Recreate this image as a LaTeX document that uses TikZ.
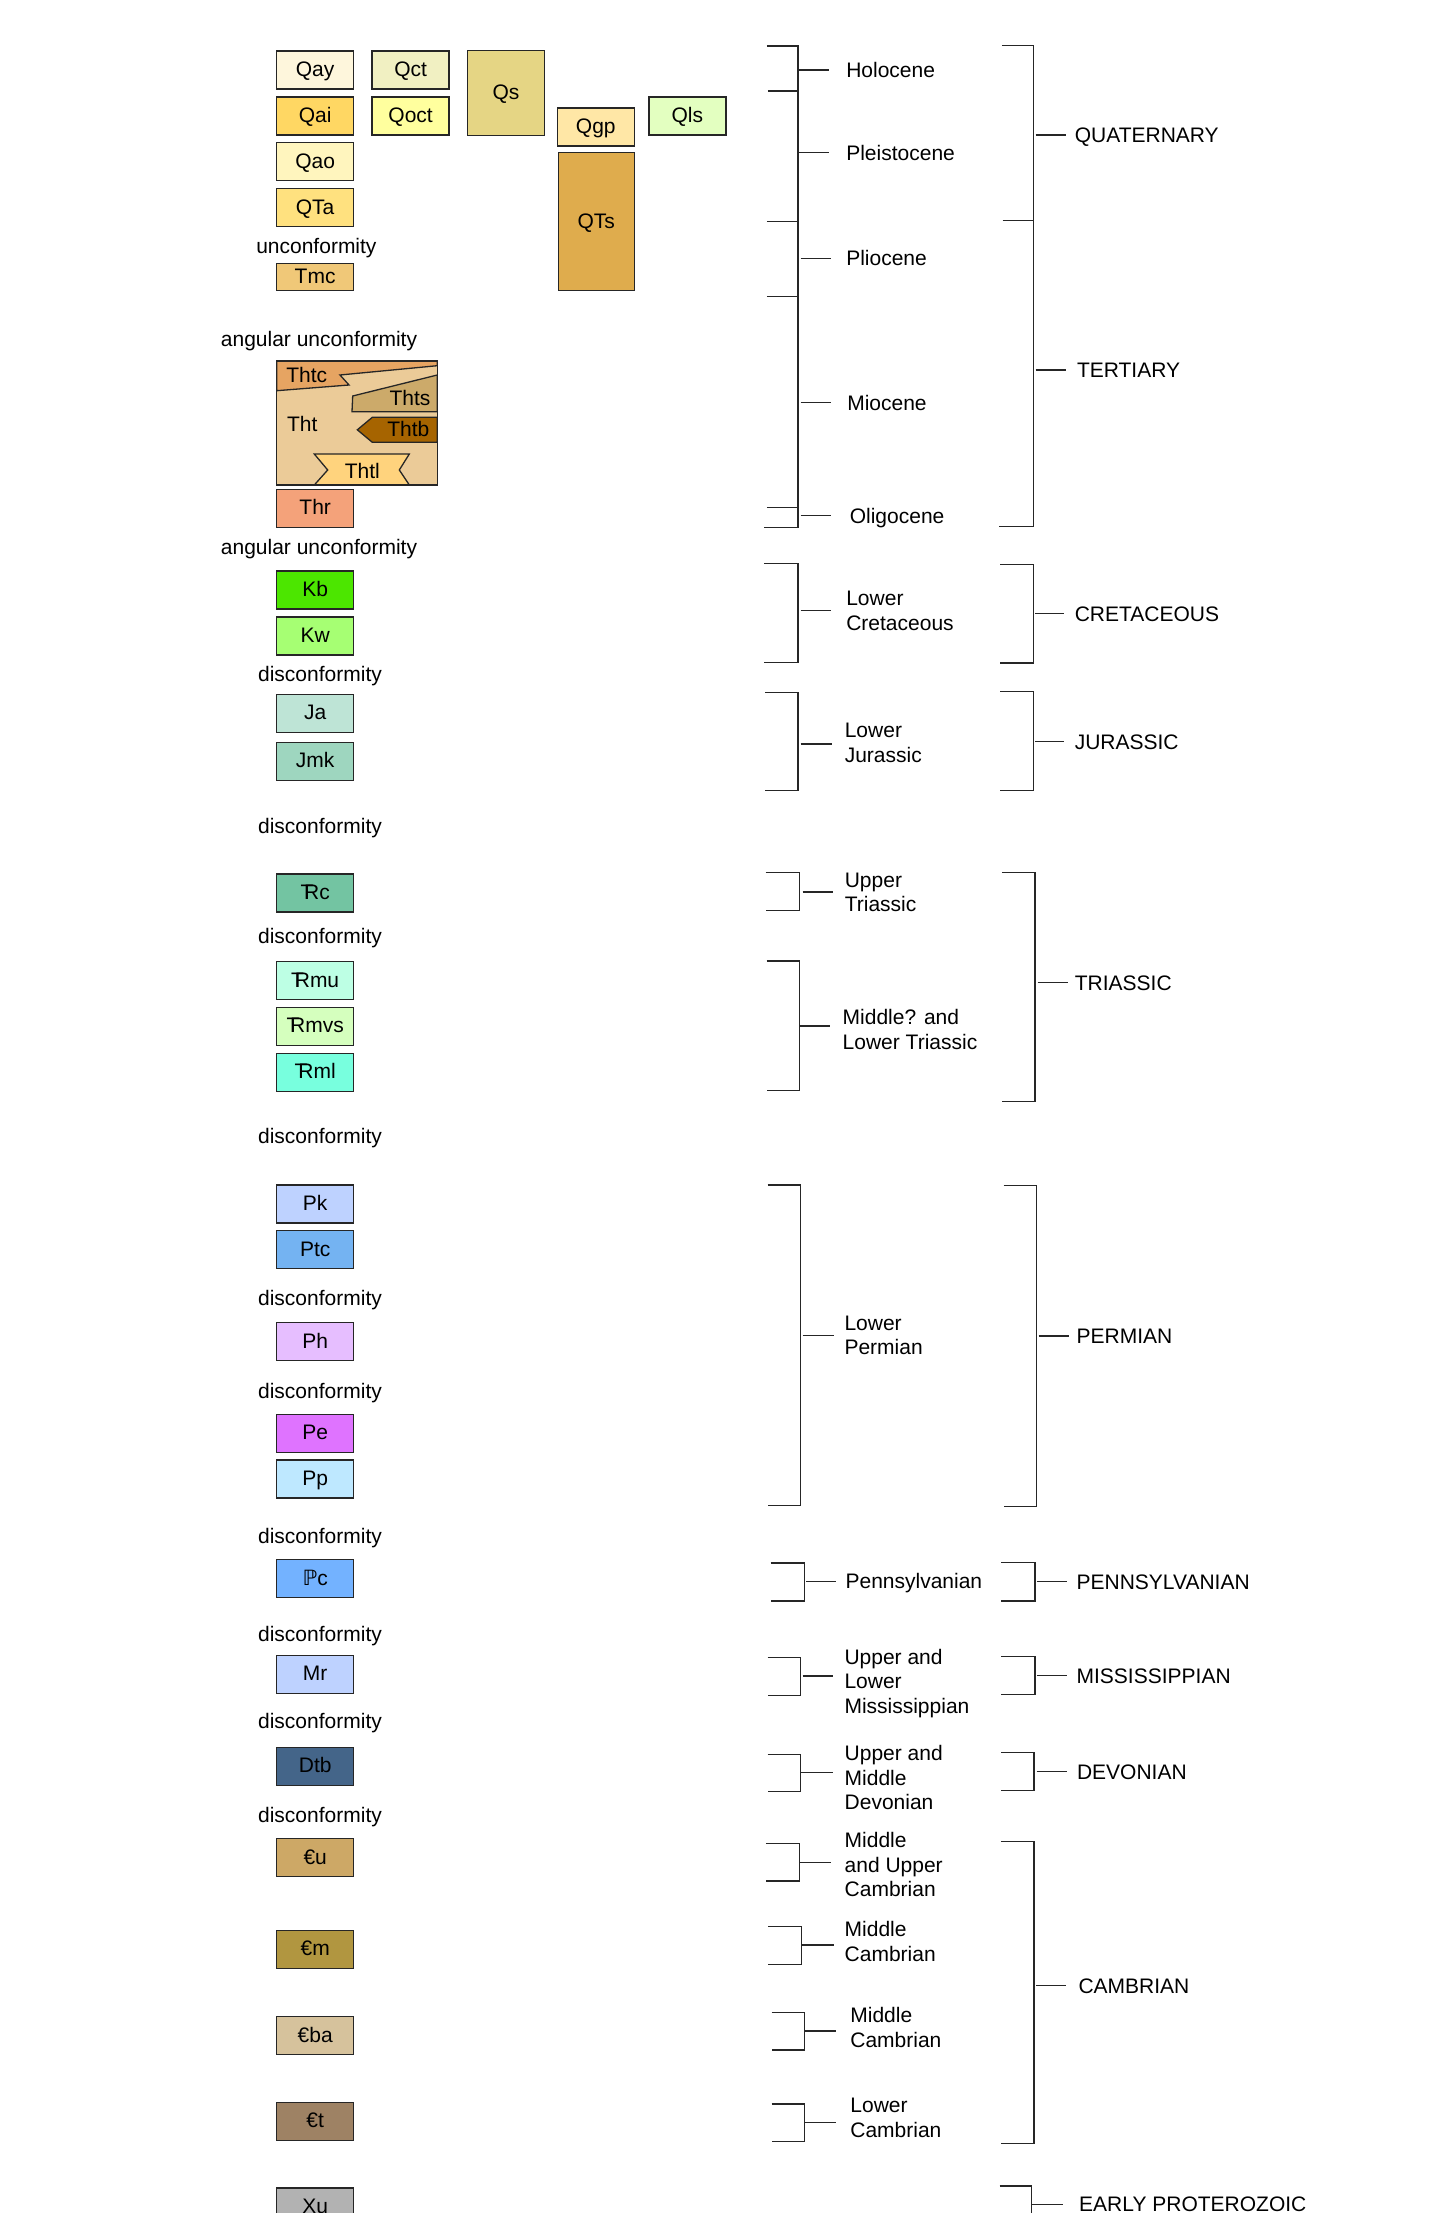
\documentclass[tikz,border=0pt]{standalone}
\usepackage{fontspec}
\setmainfont{Liberation Sans}
\newfontfamily\djv{DejaVu Sans}
\newcommand{\trs}{\kern0.17em\makebox[0pt][r]{T\kern-0.44em}R}
\newcommand{\brk}[7]{\draw[brl] (#1,#3) -- (#2,#3) -- (#2,#4) -- (#1,#4); \draw[brl] (#6,#5) -- (#7,#5);}
\definecolor{cQay}{HTML}{FEF6DC}
\definecolor{cQai}{HTML}{FFD763}
\definecolor{cQao}{HTML}{FFF5BE}
\definecolor{cQTa}{HTML}{FFE17F}
\definecolor{cTmc}{HTML}{F0C878}
\definecolor{cQct}{HTML}{F1F0C2}
\definecolor{cQoct}{HTML}{FFFF9E}
\definecolor{cQs}{HTML}{E5D584}
\definecolor{cQgp}{HTML}{FFE7A6}
\definecolor{cQTs}{HTML}{DFAC4D}
\definecolor{cQls}{HTML}{E3FFC0}
\definecolor{cTht}{HTML}{EBCB98}
\definecolor{cThtc}{HTML}{E6A462}
\definecolor{cThts}{HTML}{CCAA6A}
\definecolor{cThtb}{HTML}{A66400}
\definecolor{cThtl}{HTML}{FFD37D}
\definecolor{cThr}{HTML}{F4A27A}
\definecolor{cKb}{HTML}{4CE600}
\definecolor{cKw}{HTML}{A6FF73}
\definecolor{cJa}{HTML}{BEE4D6}
\definecolor{cJmk}{HTML}{9ED6BF}
\definecolor{cTrc}{HTML}{73C4A2}
\definecolor{cTrmu}{HTML}{BDFFE4}
\definecolor{cTrmvs}{HTML}{D5FFBE}
\definecolor{cTrml}{HTML}{78FFDE}
\definecolor{cPk}{HTML}{BED2FF}
\definecolor{cPtc}{HTML}{74B3F2}
\definecolor{cPh}{HTML}{E6BEFF}
\definecolor{cPe}{HTML}{DF73FF}
\definecolor{cPp}{HTML}{BEE8FF}
\definecolor{cIPc}{HTML}{73B2FF}
\definecolor{cMr}{HTML}{BED2FF}
\definecolor{cDtb}{HTML}{446589}
\definecolor{cCu}{HTML}{CDA866}
\definecolor{cCm}{HTML}{B19640}
\definecolor{cCba}{HTML}{D6C29C}
\definecolor{cCt}{HTML}{9E8264}
\definecolor{cXu}{HTML}{B2B2B2}
\begin{document}
\begin{tikzpicture}[x=1pt,y=-1pt,
  every node/.style={font=\fontsize{21}{24.5}\selectfont},
  unit/.style={draw=black!85, line width=1.3pt, minimum width=77pt, minimum height=38pt, inner sep=0pt, text height=15pt, text depth=2pt},
  ulab/.style={inner sep=0pt, text height=11pt, text depth=0pt},
  plab/.style={anchor=west, inner sep=0pt, text height=15pt, text depth=0pt},
  mlab/.style={anchor=north west, align=left, inner sep=0pt},
  brl/.style={draw=black!85, line width=1.3pt},
  poly/.style={draw=black!85, line width=1.3pt}]
\useasboundingbox (0,0) rectangle (1441,2213);
\clip (0,0) rectangle (1441,2213);
\fill[white] (0,0) rectangle (1441,2213);
% ---------- Quaternary / Tertiary units ----------
\node[unit, fill=cQay] (qay) at (315.1,70) {Qay};
\node[unit, fill=cQai] (qai) at (315.1,116) {Qai};
\node[unit, fill=cQao] (qao) at (315.1,161.5) {Qao};
\node[unit, fill=cQTa] (qta) at (315.1,207.5) {QTa};
\node[ulab] (unc1) at (316.4,248.3) {unconformity};
\node[unit, fill=cTmc, minimum height=27pt] (tmc) at (315.1,277.2) {Tmc};
\node[unit, fill=cQct] (qct) at (410.6,70) {Qct};
\node[unit, fill=cQoct] (qoct) at (410.6,116) {Qoct};
\node[unit, fill=cQs, minimum height=84.6pt] (qs) at (506,93) {Qs};
\node[unit, fill=cQgp] (qgp) at (595.8,127) {Qgp};
\node[unit, fill=cQTs, minimum width=76pt, minimum height=138.4pt] (qts) at (596.2,221.5) {QTs};
\node[unit, fill=cQls] (qls) at (687.4,116) {Qls};
% ---------- Tht group ----------
\node[ulab] (ang1) at (319,340.7) {angular unconformity};
\draw[poly, fill=cTht] (276.7,361) rectangle (437.3,485);
\draw[poly, fill=cThtc] (276.7,361) -- (437.3,361) -- (437.3,365.7) -- (340,375) -- (349,385) -- (276.7,390.7) -- cycle;
\draw[poly, fill=cThts] (352.7,396) -- (437.3,375) -- (437.3,411.7) -- (352,411.7) -- cycle;
\draw[poly, fill=cThtb] (357.3,429.8) -- (372.3,417.3) -- (437.3,417.3) -- (437.3,442.3) -- (372.3,442.3) -- cycle;
\draw[poly, fill=cThtl] (314.3,454) -- (409.3,454) -- (399.3,470) -- (409.3,485) -- (314.3,485) -- (327.7,470) -- cycle;
\draw[poly] (276.7,361) rectangle (437.3,485);
\node[plab, anchor=center] (thtc) at (306.7,375) {Thtc};
\node[plab, anchor=center] (thts) at (410,398.3) {Thts};
\node[plab, anchor=center] (tht) at (302.3,424.3) {Tht};
\node[plab, anchor=center] (thtb) at (408.3,429.3) {Thtb};
\node[plab, anchor=center] (thtl) at (362.3,470.7) {Thtl};
\node[unit, fill=cThr] (thr) at (315.2,508.3) {Thr};
\node[ulab] (ang2) at (319,549) {angular unconformity};
% ---------- Cretaceous - Triassic ----------
\node[unit, fill=cKb] (kb) at (315.2,590.1) {Kb};
\node[unit, fill=cKw] (kw) at (315.2,635.9) {Kw};
\node[ulab] (dis1) at (320,675.7) {disconformity};
\node[unit, fill=cJa] (ja) at (315.2,713.4) {Ja};
\node[unit, fill=cJmk] (jmk) at (315.2,761.3) {Jmk};
\node[ulab] (dis2) at (320,827.5) {disconformity};
\node[unit, fill=cTrc] (trc) at (315.2,893) {\trs c};
\node[ulab] (dis3) at (320,938.2) {disconformity};
\node[unit, fill=cTrmu] (trmu) at (315.2,980.7) {\trs mu};
\node[unit, fill=cTrmvs] (trmvs) at (315.2,1026.3) {\trs mvs};
\node[unit, fill=cTrml] (trml) at (315.2,1072.2) {\trs ml};
% ---------- Permian - Cambrian ----------
\node[ulab] (dis4) at (320,1137.5) {disconformity};
\node[unit, fill=cPk] (pk) at (315.2,1204.1) {Pk};
\node[unit, fill=cPtc] (ptc) at (315.2,1249.7) {Ptc};
\node[ulab] (dis5) at (320,1300) {disconformity};
\node[unit, fill=cPh] (ph) at (315.2,1341.7) {Ph};
\node[ulab] (dis6) at (320,1392.9) {disconformity};
\node[unit, fill=cPe] (pe) at (315.2,1433.2) {Pe};
\node[unit, fill=cPp] (pp) at (315.2,1479) {Pp};
\node[ulab] (dis7) at (320,1537.5) {disconformity};
\node[unit, fill=cIPc] (ipc) at (315.2,1578.6) {{\djv ℙ}c};
\node[ulab] (dis8) at (320,1635.7) {disconformity};
\node[unit, fill=cMr] (mr) at (315.2,1674.4) {Mr};
\node[ulab] (dis9) at (320,1723.3) {disconformity};
\node[unit, fill=cDtb] (dtb) at (315.2,1766.3) {Dtb};
\node[ulab] (dis10) at (320,1817.3) {disconformity};
\node[unit, fill=cCu] (cu) at (315.2,1857.8) {€u};
\node[unit, fill=cCm] (cm) at (315.2,1949.2) {€m};
\node[unit, fill=cCba] (cba) at (315.2,2035.5) {€ba};
\node[unit, fill=cCt] (ct) at (315.2,2121.4) {€t};
\node[unit, fill=cXu] (xu) at (315.2,2207) {Xu};
% ---------- Epoch brackets ----------
\draw[brl] (766.8,46) -- (797.9,46) -- (797.9,527.3) -- (764.3,527.3);
\draw[brl] (767.9,91) -- (797.9,91);
\draw[brl] (766.8,221.7) -- (797.9,221.7);
\draw[brl] (766.8,296.7) -- (797.9,296.7);
\draw[brl] (766.8,507.3) -- (797.9,507.3);
\draw[brl] (798,70) -- (828.6,70);
\draw[brl] (798,152.7) -- (828.6,152.7);
\draw[brl] (800.7,258.3) -- (831.1,258.3);
\draw[brl] (800.7,402.7) -- (831.1,402.7);
\draw[brl] (800.7,515.7) -- (831.1,515.7);
\node[plab] (holo) at (846.1,70) {Holocene};
\node[plab] (pleis) at (846.1,152.7) {Pleistocene};
\node[plab] (plio) at (846.1,258.3) {Pliocene};
\node[plab] (mio) at (847.1,402.7) {Miocene};
\node[plab] (oligo) at (849.6,515.7) {Oligocene};
\brk{764.3}{797.9}{563.6}{662.5}{610.2}{800.7}{831.1}
\node[mlab] (lcret) at (846.1,591.1) {Lower\\Cretaceous};
\brk{765.2}{797.9}{692.7}{790.8}{743.9}{800.7}{831.8}
\node[mlab] (ljur) at (844.6,723) {Lower\\Jurassic};
\brk{765.7}{799.3}{872.6}{910.8}{891.9}{802.5}{832.9}
\node[mlab] (utri) at (844.6,872.8) {Upper\\Triassic};
\brk{766.6}{799.3}{960.9}{1090.3}{1026}{799.3}{830.4}
\node[mlab] (mltri) at (842.5,1009.5) {Middle? and\\Lower Triassic};
\brk{767.7}{800.7}{1185}{1505.7}{1335.4}{802.5}{833.6}
\node[mlab] (lperm) at (844.3,1315.4) {Lower\\Permian};
\brk{770.5}{804.3}{1562.9}{1601.1}{1581.4}{806}{836.4}
\node[plab] (penn) at (845.4,1581.4) {Pennsylvanian};
\brk{767.7}{800.7}{1657.5}{1695.7}{1676.1}{802.5}{832.9}
\node[mlab] (miss) at (844.3,1648.6) {Upper and\\Lower\\Mississippian};
\brk{767.7}{800.5}{1754.3}{1791.7}{1772.7}{801.2}{832.6}
\node[mlab] (dev) at (844.5,1745.5) {Upper and\\Middle\\Devonian};
\brk{765.8}{799.3}{1843.3}{1881}{1862.3}{799.3}{830.7}
\node[mlab] (mucam) at (844.5,1832.2) {Middle\\and Upper\\Cambrian};
\brk{768.1}{801.2}{1926.7}{1964.3}{1945}{801.2}{834.1}
\node[mlab] (mcam1) at (844.5,1921.5) {Middle\\Cambrian};
\brk{771.5}{804.3}{2012.7}{2050}{2031}{804.3}{836.4}
\node[mlab] (mcam2) at (850.2,2007.2) {Middle\\Cambrian};
\brk{771.5}{804.3}{2104}{2141.7}{2122.7}{804.3}{836.4}
\node[mlab] (lcam) at (850.2,2098.2) {Lower\\Cambrian};
% ---------- Period brackets ----------
\draw[brl] (1001.8,45.7) -- (1033.6,45.7) -- (1033.6,526.7) -- (998.9,526.7);
\draw[brl] (1002.5,220.7) -- (1033.6,220.7);
\draw[brl] (1035.7,135) -- (1065.7,135);
\draw[brl] (1035.7,370) -- (1065.7,370);
\node[plab] (quat) at (1074.6,135) {QUATERNARY};
\node[plab] (tert) at (1076.8,370) {TERTIARY};
\brk{1000.3}{1033.6}{564.4}{662.9}{613.8}{1035}{1064.3}
\node[plab] (cret) at (1074.6,613.8) {CRETACEOUS};
\brk{1000.3}{1033.6}{691.6}{790.8}{741.7}{1035}{1064.3}
\node[plab] (jur) at (1074.6,741.7) {JURASSIC};
\brk{1001.8}{1035}{872.2}{1101.6}{982.7}{1037.5}{1067.9}
\node[plab] (tri) at (1074.6,982.7) {TRIASSIC};
\brk{1003.7}{1036.4}{1185.7}{1506.4}{1336.1}{1038.6}{1068.6}
\node[plab] (perm) at (1076.4,1336.1) {PERMIAN};
\brk{1001.4}{1035}{1562.5}{1601.1}{1581.8}{1036.8}{1066.8}
\node[plab] (pennp) at (1076.4,1581.8) {PENNSYLVANIAN};
\brk{1001.4}{1035}{1656.4}{1694.6}{1675.7}{1036.8}{1066.8}
\node[plab] (missp) at (1076.4,1675.7) {MISSISSIPPIAN};
\brk{1001.3}{1033.9}{1752.3}{1790.7}{1771.7}{1036.6}{1067.2}
\node[plab] (devp) at (1076.8,1771.7) {DEVONIAN};
\brk{1000.8}{1033.9}{1841.7}{2143.3}{1985.7}{1036.2}{1066}
\node[plab] (camp) at (1078.3,1985.7) {CAMBRIAN};
\draw[brl] (999.5,2186) -- (1031.6,2186) -- (1031.6,2240);
\draw[brl] (1031.6,2204.3) -- (1062.6,2204.3);
\node[plab] (eprot) at (1079,2204.3) {EARLY PROTEROZOIC};
\end{tikzpicture}
\end{document}
